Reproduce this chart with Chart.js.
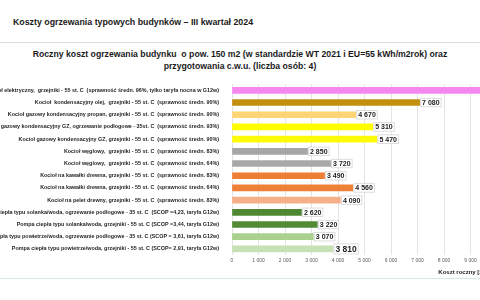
<!DOCTYPE html>
<html>
<head>
<meta charset="utf-8">
<script src="https://cdn.jsdelivr.net/npm/chart.js@4"></script>
<style>
  html, body { margin: 0; padding: 0; }
  body { width: 480px; height: 300px; overflow: hidden; position: relative; background: #fff;
         font-family: "Liberation Sans", Arial, sans-serif; color: #1a1a1a; }
  #head { position: absolute; left: 13px; top: 17px; font-weight: bold; font-size: 8.8px; white-space: nowrap; }
  #ruleTop { position: absolute; left: 0; top: 42px; width: 480px; height: 1px; background: #dcdcdc; }
  #sub { position: absolute; left: 0; top: 49px; width: 480px; text-align: center; font-weight: bold;
         font-size: 8.7px; line-height: 11.5px; white-space: nowrap; }
  #box { position: absolute; left: 0; top: 76px; width: 510px; height: 201px; }
  #ruleBottom { position: absolute; left: 0; top: 278px; width: 480px; height: 1px; background: #d3e9e6; }
</style>
</head>
<body>
<div id="head">Koszty ogrzewania typowych budynków – III kwartał 2024</div>
<div id="ruleTop"></div>
<div id="sub">Roczny koszt ogrzewania budynku&nbsp; o pow. 150 m2 (w standardzie WT 2021 i EU=55 kWh/m2rok) oraz<br>przygotowania c.w.u. (liczba osób: 4)</div>
<div id="box"><canvas id="myChart" width="510" height="201"></canvas></div>
<div id="ruleBottom"></div>
<script>
const categories = [
  'Kocioł elektryczny,  grzejniki - 55 st. C  (sprawność średn. 96%, tylko taryfa nocna w G12w)',
  'Kocioł  kondensacyjny olej,  grzejniki - 55 st. C  (sprawność średn. 90%)',
  'Kocioł gazowy kondensacyjny propan, grzejniki - 55 st. C  (sprawność średn. 90%)',
  'Kocioł gazowy kondensacyjny GZ, ogrzewanie podłogowe - 35st. C  (sprawność średn. 93%)',
  'Kocioł gazowy kondensacyjny GZ, grzejniki - 55 st. C  (sprawność średn. 90%)',
  'Kocioł węglowy,  grzejniki - 55 st. C  (sprawność średn. 83%)',
  'Kocioł węglowy,  grzejniki - 55 st. C  (sprawność średn. 64%)',
  'Kocioł na kawałki drewna, grzejniki - 55 st. C  (sprawność średn. 83%)',
  'Kocioł na kawałki drewna, grzejniki - 55 st. C  (sprawność średn. 64%)',
  'Kocioł na pelet drewny, grzejniki - 55 st. C  (sprawność średn. 83%)',
  'Pompa ciepła typu solanka/woda, ogrzewanie podłogowe - 35 st. C  (SCOP =4,23, taryfa G12w)',
  'Pompa ciepła typu solanka/woda, grzejniki - 55 st. C (SCOP =3,44, taryfa G12w)',
  'Pompa ciepła typu powietrze/woda, ogrzewanie podłogowe - 35 st. C (SCOP = 3,61, taryfa G12w)',
  'Pompa ciepła typu powietrze/woda, grzejniki - 55 st. C (SCOP= 2,91, taryfa G12w)',
];
const costs = [9750, 7080, 4670, 5310, 5470, 2850, 3720, 3490, 4560, 4090, 2620, 3220, 3070, 3810];
const barColors = [
  '#f587ee', '#c0900e', '#ffd474', '#ffff00', '#fcfc0a', '#a6a6a6', '#a8a8a8',
  '#ef7e35', '#ef8038', '#f5b088', '#4f8833', '#528a36', '#a9d28f', '#c6e1b4',
];
const axisMax = 10000;
const axisStep = 1000;

// liczby z odstępem tysięcy: 7 080
const fmt = (v) => String(Math.round(v)).replace(/\B(?=(\d{3})+(?!\d))/g, ' ');

const valueLabels = {
  id: 'valueLabels',
  afterDatasetsDraw(chart) {
    const ctx = chart.ctx;
    const meta = chart.getDatasetMeta(0);
    ctx.save();
    meta.data.forEach((bar, i) => {
      const size = i === costs.length - 1 ? 8.5 : 7;
      const txt = fmt(costs[i]);
      ctx.font = `bold ${size}px "Liberation Sans", Arial, sans-serif`;
      const w = ctx.measureText(txt).width + 3;
      const h = size + 1.5;
      const x = bar.x + 1;
      const y = bar.y - h / 2;
      ctx.fillStyle = '#fff';
      ctx.fillRect(x, y, w, h);
      ctx.strokeStyle = '#d4d4d4';
      ctx.lineWidth = 0.8;
      ctx.strokeRect(x, y, w, h);
      ctx.fillStyle = '#222';
      ctx.textBaseline = 'middle';
      ctx.fillText(txt, x + 1.5, bar.y + 0.5);
    });
    ctx.restore();
  },
};

new Chart(document.getElementById('myChart'), {
  type: 'bar',
  data: {
    labels: categories,
    datasets: [{
      data: costs,
      backgroundColor: barColors,
      barThickness: 6,
      borderWidth: 0,
    }],
  },
  options: {
    indexAxis: 'y',
    responsive: false,
    animation: false,
    devicePixelRatio: 1,
    layout: {padding: {top: 2.7, right: 13, left: 0, bottom: 0}},
    plugins: {
      legend: {display: false},
      tooltip: {enabled: false},
    },
    scales: {
      x: {
        min: 0,
        max: axisMax,
        afterFit: (s) => { s.height = 22; },
        ticks: {
          stepSize: axisStep,
          padding: 3,
          color: '#595959',
          font: {size: 5, family: '"Liberation Sans", Arial, sans-serif'},
          callback: (v) => fmt(v),
        },
        grid: {color: '#e4e4e4', drawTicks: false},
        border: {display: false},
        title: {
          display: true,
          text: 'Koszt roczny [zł/rok]',
          align: 'end',
          color: '#222',
          padding: {top: 0, bottom: 1},
          font: {size: 6, weight: 'bold', family: '"Liberation Sans", Arial, sans-serif'},
        },
      },
      y: {
        afterFit: (s) => { s.width = 232; },
        ticks: {
          autoSkip: false,
          padding: 5,
          color: '#262626',
          font: {size: 5.4, weight: 'bold', family: '"Liberation Sans", Arial, sans-serif'},
        },
        grid: {display: false},
        border: {display: false},
      },
    },
  },
  plugins: [valueLabels],
});
</script>
</body>
</html>
